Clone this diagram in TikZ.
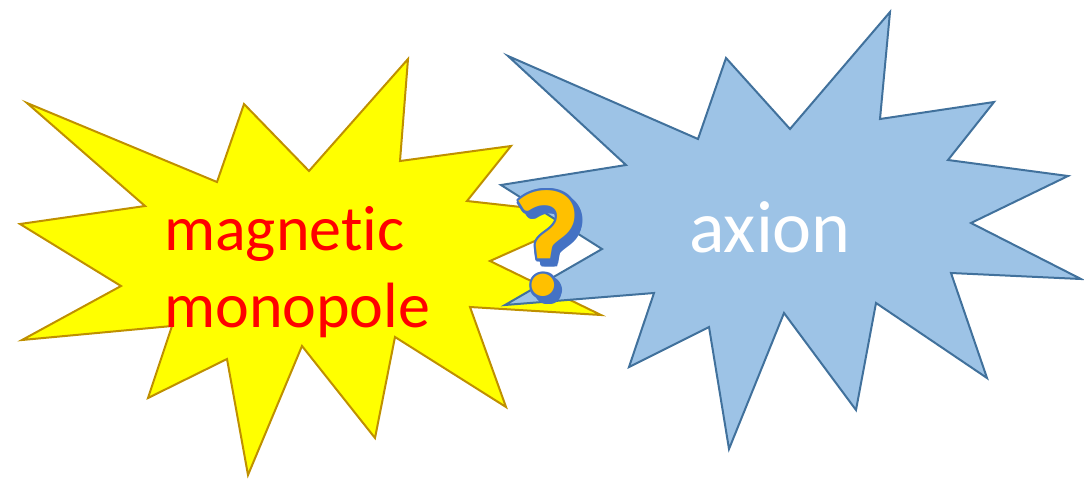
\documentclass[tikz,border=0pt]{standalone}
\usepackage{fontspec}
\setmainfont[Ligatures={NoCommon}]{Carlito}
\definecolor{yfill}{HTML}{FFFF00}
\definecolor{ydraw}{HTML}{BF9000}
\definecolor{bfill}{HTML}{9DC3E6}
\definecolor{bdraw}{HTML}{41719C}
\definecolor{qorange}{HTML}{FFC000}
\definecolor{qblue}{HTML}{4472C4}
\tikzset{
  ystar/.style={fill=yfill,draw=ydraw,line width=2pt,line join=miter},
  bstar/.style={fill=bfill,draw=bdraw,line width=2pt,line join=miter},
  lbl/.style={inner sep=0pt,anchor=base west,font=\fontsize{64}{77}\selectfont},
  qm/.style={inner sep=0pt,anchor=center,font=\bfseries\fontsize{152}{152}\selectfont}
}
\begin{document}
\begin{tikzpicture}[x=1pt,y=-1pt]
\useasboundingbox (0,0) rectangle (1084,480);
% yellow explosion
\draw[ystar] (27,103) -- (217,182) -- (244,104) -- (309,171) -- (408,59) -- (400,161)
  -- (511,146) -- (467,201) -- (593,215) -- (490,261) -- (601,315) -- (470,307)
  -- (506,407) -- (395,337) -- (375,438) -- (302,346) -- (248,475) -- (227,359)
  -- (148,398) -- (172,326) -- (22,340) -- (121,286) -- (20,224) -- (145,206) -- cycle;
% blue explosion
\draw[bstar] (508,56) -- (698,139) -- (726,58) -- (790,129) -- (890,12) -- (880,119)
  -- (994,102) -- (948,160) -- (1068,176) -- (971,223) -- (1081,279) -- (951,273)
  -- (987,378) -- (876,303) -- (856,410) -- (784,313) -- (729,449) -- (709,327)
  -- (629,367) -- (654,293) -- (505,305) -- (602,249) -- (501,185) -- (626,165) -- cycle;
% labels
\node[lbl,text=red] (mag) at (164,250) {magnetic};
\node[lbl,text=red] (mono) at (164,327) {monopole};
\node[lbl,text=white,font=\fontsize{74}{88}\selectfont] (axion) at (689,252) {axion};
% question mark: shadow, outline, fill
\foreach \a [count=\i] in {0,30,...,330} {
  \node[qm,text=qblue] (qs\i) at ([shift={(\a:2.5)}]552,249) {?};
}
\foreach \a [count=\i] in {0,30,...,330} {
  \node[qm,text=qblue] (qo\i) at ([shift={(\a:2.5)}]547,244) {?};
}
\node[qm,text=qorange] (q) at (547,244) {?};
\end{tikzpicture}
\end{document}
